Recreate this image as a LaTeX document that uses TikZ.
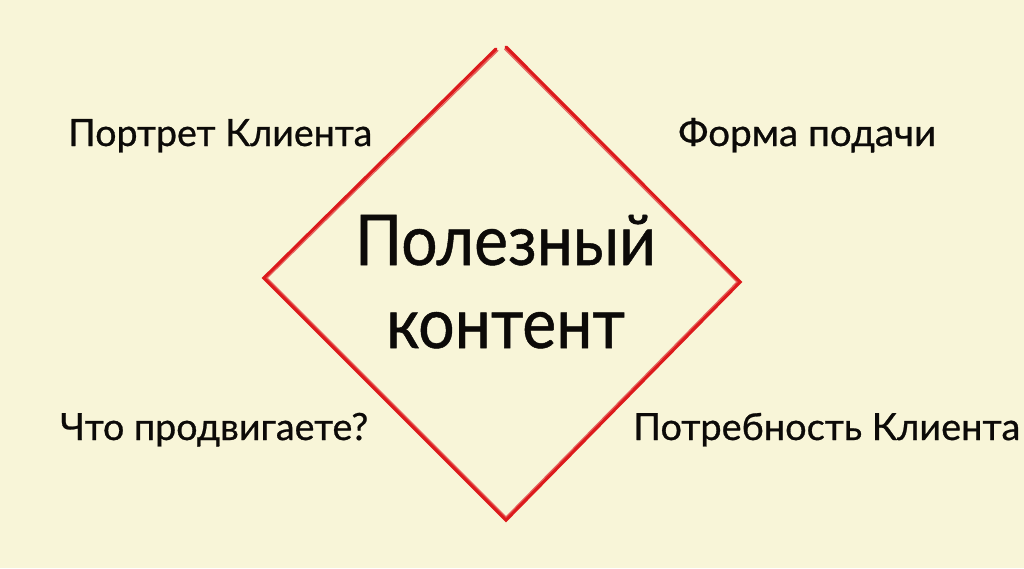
\documentclass[tikz,border=0pt]{standalone}
\usepackage{fontspec}
\usepackage{graphicx}
\setmainfont{Lato}[FakeBold=0.7]
\newsavebox\fitbox
\newcommand\fitw[2]{\sbox\fitbox{#2}\scalebox{\fpeval{#1/\wd\fitbox}}[1]{\usebox\fitbox}}
\definecolor{bgcream}{RGB}{248,245,216}
\definecolor{sketchred}{RGB}{220,26,28}
\definecolor{inkblack}{RGB}{12,10,8}
\tikzset{
  small/.style={anchor=base west, inner sep=0pt, text=inkblack, font=\fontsize{37.5}{40}\selectfont},
  big/.style={anchor=base, inner sep=0pt, text=inkblack, font=\fontsize{70}{80}\selectfont},
  rim/.style={draw=sketchred, line width=3.3pt, line join=miter, line cap=round},
  rimthin/.style={draw=sketchred!80!white, line width=1.2pt, line cap=round, opacity=0.85}
}
\begin{document}
\begin{tikzpicture}[x=1pt,y=-1pt]
\fill[bgcream] (0,0) rectangle (1024,568);
\useasboundingbox (0,0) rectangle (1024,568);
% diamond corners
\coordinate (ta) at (496,49);
\coordinate (tb) at (506,47);
\coordinate (lc) at (264,278);
\coordinate (bc) at (506,520);
\coordinate (rc) at (740,282);
\draw[rim] (ta) -- (lc) -- (bc) -- (rc) -- (tb);
\draw[rimthin] ([shift={(2,1.5)}]ta) -- ([shift={(3,0)}]lc) -- ([shift={(0,-3)}]bc) -- ([shift={(-3,0)}]rc) -- ([shift={(-1.5,2)}]tb);
% centre text
\node[big] (t1) at (505.5,265) {\fitw{301pt}{Полезный}};
\node[big] (t2) at (505.5,348) {\fitw{239pt}{контент}};
% corner labels
\node[small] (q1) at (68,146) {\fitw{304pt}{Портрет Клиента}};
\node[small] (q2) at (678,146) {\fitw{258pt}{Форма подачи}};
\node[small] (q3) at (60,440) {\fitw{308pt}{Что продвигаете?}};
\node[small] (q4) at (633,440) {\fitw{387pt}{Потребность Клиента}};
\end{tikzpicture}
\end{document}
